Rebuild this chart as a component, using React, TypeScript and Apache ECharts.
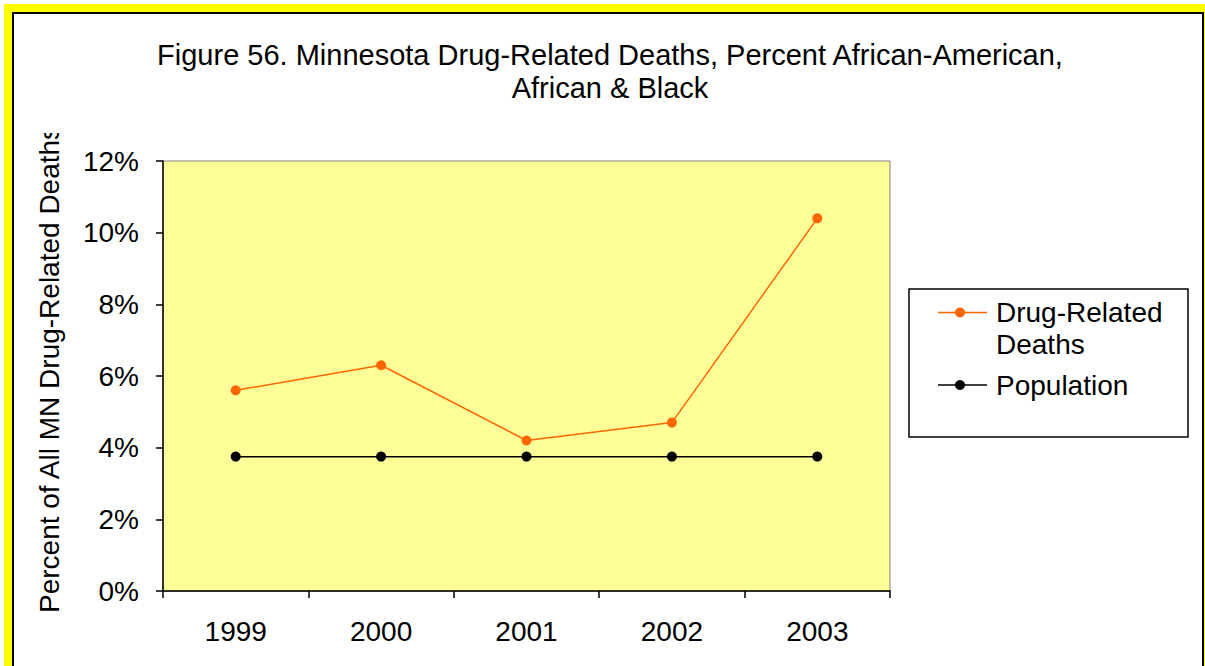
import React, { useEffect, useRef } from "react";
import * as echarts from "echarts";

const categories = ["1999", "2000", "2001", "2002", "2003"];
const drugDeaths = [5.6, 6.3, 4.2, 4.7, 10.4];
const population = [3.75, 3.75, 3.75, 3.75, 3.75];
const seriesNames = ["Drug-Related Deaths", "Population"];
const titleText = "Figure 56. Minnesota Drug-Related Deaths, Percent African-American,\nAfrican & Black";
const yAxisTitle = "Percent of All MN Drug-Related Deaths";

const FONT = "'Liberation Sans', Arial, sans-serif";
const ORANGE = "#FF6600";

export default function App() {
  const ref = useRef<HTMLDivElement>(null);
  useEffect(() => {
    if (!ref.current) return;
    const chart = echarts.init(ref.current, undefined, { renderer: "svg" });
    chart.setOption({
      animation: false,
      textStyle: { fontFamily: FONT },
      title: {
        text: titleText,
        left: 610,
        top: 38,
        padding: 0,
        textAlign: "center",
        textStyle: { fontSize: 29, fontWeight: "normal", color: "#000", lineHeight: 33, fontFamily: FONT },
      },
      legend: { show: false },
      grid: {
        left: 163,
        top: 161,
        right: 315,
        bottom: 75,
        show: true,
        backgroundColor: "#FFFF99",
        borderColor: "#808080",
        borderWidth: 1,
      },
      xAxis: {
        type: "category",
        data: categories,
        boundaryGap: true,
        axisLine: { lineStyle: { color: "#000", width: 1.5 } },
        axisTick: { show: true, length: 7, lineStyle: { color: "#000", width: 1.5 } },
        axisLabel: { fontSize: 28, color: "#000", margin: 26, fontFamily: FONT },
        splitLine: { show: false },
      },
      yAxis: {
        type: "value",
        min: 0,
        max: 12,
        interval: 2,
        axisLine: { show: true, lineStyle: { color: "#000", width: 1.5 } },
        axisTick: { show: true, length: 7, lineStyle: { color: "#000", width: 1.5 } },
        axisLabel: { fontSize: 28, color: "#000", margin: 24, formatter: "{value}%", fontFamily: FONT },
        splitLine: { show: false },
      },
      series: [
        {
          name: seriesNames[0],
          type: "line",
          data: drugDeaths,
          symbol: "circle",
          symbolSize: 10,
          itemStyle: { color: ORANGE },
          lineStyle: { color: ORANGE, width: 1.5 },
          z: 3,
        },
        {
          name: seriesNames[1],
          type: "line",
          data: population,
          symbol: "circle",
          symbolSize: 10,
          itemStyle: { color: "#000" },
          lineStyle: { color: "#000", width: 1.5 },
          z: 2,
        },
      ],
      graphic: [
        {
          type: "text",
          x: 49,
          y: 613,
          rotation: Math.PI / 2,
          style: { text: yAxisTitle, font: `28px ${FONT}`, fill: "#000", textAlign: "left", textVerticalAlign: "middle" },
          z: 10,
        },
        { type: "rect", shape: { x: 25, y: 90, width: 50, height: 43 }, style: { fill: "#fff" }, z: 11 },
        {
          type: "rect",
          shape: { x: 909, y: 289, width: 279, height: 148 },
          style: { fill: "#fff", stroke: "#000", lineWidth: 1.5 },
          z: 10,
        },
        { type: "line", shape: { x1: 938, y1: 312.5, x2: 987, y2: 312.5 }, style: { stroke: ORANGE, lineWidth: 1.5 }, z: 11 },
        { type: "circle", shape: { cx: 960, cy: 312.5, r: 5 }, style: { fill: ORANGE }, z: 12 },
        {
          type: "text",
          x: 996,
          y: 312,
          style: { text: "Drug-Related", font: `28px ${FONT}`, fill: "#000", textVerticalAlign: "middle" },
          z: 12,
        },
        {
          type: "text",
          x: 996,
          y: 344,
          style: { text: "Deaths", font: `28px ${FONT}`, fill: "#000", textVerticalAlign: "middle" },
          z: 12,
        },
        { type: "line", shape: { x1: 938, y1: 385, x2: 987, y2: 385 }, style: { stroke: "#000", lineWidth: 1.5 }, z: 11 },
        { type: "circle", shape: { cx: 960, cy: 385, r: 5 }, style: { fill: "#000" }, z: 12 },
        {
          type: "text",
          x: 996,
          y: 385,
          style: { text: seriesNames[1], font: `28px ${FONT}`, fill: "#000", textVerticalAlign: "middle" },
          z: 12,
        },
      ],
    });
    return () => chart.dispose();
  }, []);

  return (
    <div style={{ position: "absolute", left: 0, top: 0, width: 1205, height: 666, overflow: "hidden", background: "#fff" }}>
      <div style={{ position: "absolute", left: 4, top: 4, width: 1300, height: 800, background: "#FFFF00" }} />
      <div
        style={{
          position: "absolute",
          left: 12,
          top: 12,
          width: 1192,
          height: 800,
          background: "#fff",
          border: "2px solid #000",
          boxSizing: "border-box",
        }}
      />
      <div ref={ref} style={{ position: "absolute", left: 0, top: 0, width: 1205, height: 666 }} />
    </div>
  );
}
